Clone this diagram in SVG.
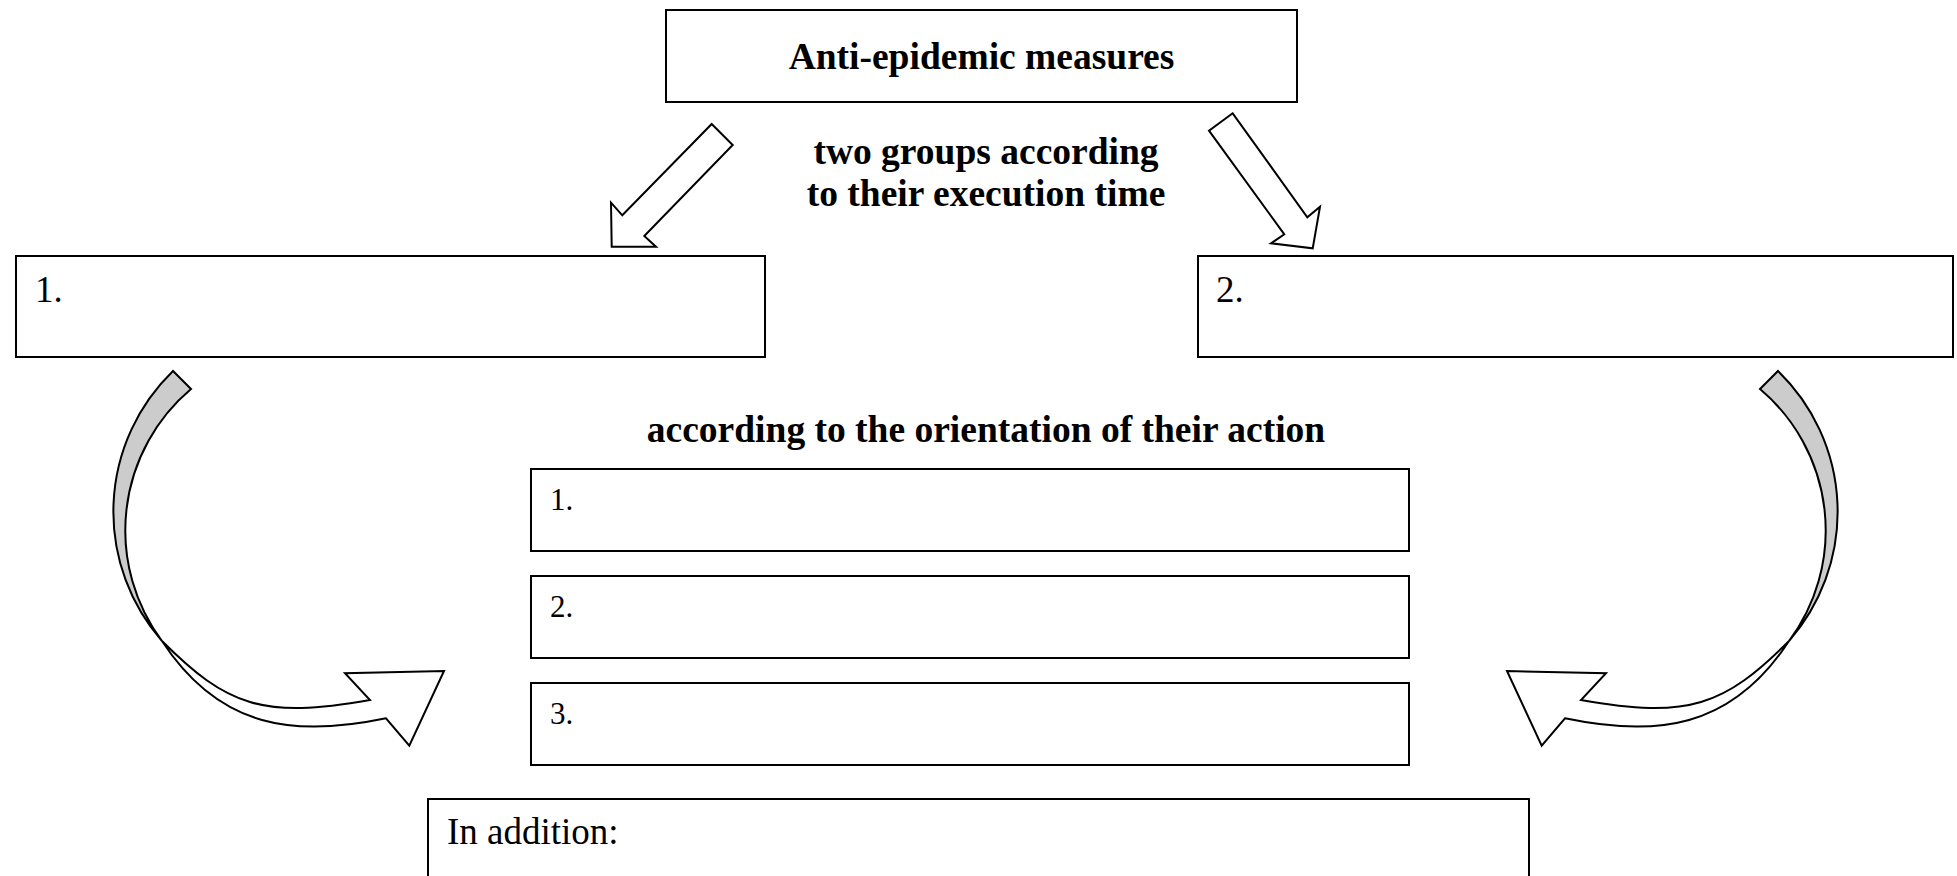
<svg xmlns="http://www.w3.org/2000/svg" width="1957" height="876" viewBox="0 0 1957 876">
<defs>
<style>
.box{fill:#fff;stroke:#000;stroke-width:2}
.arr{fill:#fff;stroke:#000;stroke-width:2;stroke-linejoin:miter}
.back{fill:#cccccc;stroke:#000;stroke-width:2}
.b{font-family:"Liberation Serif","Times New Roman",serif;font-weight:bold;font-size:37.5px;fill:#000}
.r{font-family:"Liberation Serif","Times New Roman",serif;font-size:37px;fill:#000}
.s{font-family:"Liberation Serif","Times New Roman",serif;font-size:31px;fill:#000}
</style>
<g id="curved-arrow">
<path class="back" d="M173,371 A196,196 0 0,0 162,641 A185,185 0 0,1 191,389 Z"/>
<path class="arr" d="M162,641 C226.7,705.7 262.6,719.3 370,700 L345,673.3 L444,671 L409.3,745.7 L386,718.3 C295.9,737.2 220.1,729.7 162,641 Z"/>
</g>
</defs>
<rect width="1957" height="876" fill="#fff"/>
<g id="connectors">
<path id="arrow-left" class="arr" d="M711.7,124 L732.7,145 L644.3,236 L656,246.7 L611.7,246.7 L611,202.7 L622.3,215.3 Z"/>
<path id="arrow-right" class="arr" d="M1232.7,113.3 L1209,130.7 L1284.3,234.3 L1271,243.3 L1312.7,248.3 L1320,206.7 L1307.3,217.3 Z"/>
<use id="curve-left" href="#curved-arrow"/>
<use id="curve-right" href="#curved-arrow" transform="translate(1951,0) scale(-1,1)"/>
</g>
<g id="node-title">
<rect class="box" x="666" y="10" width="631" height="92"/>
<text class="b" x="981.5" y="69" text-anchor="middle">Anti-epidemic measures</text>
</g>
<g id="label-time">
<text class="b" x="986" y="164" text-anchor="middle">two groups according</text>
<text class="b" x="986" y="206" text-anchor="middle">to their execution time</text>
</g>
<g id="node-group1">
<rect class="box" x="16" y="256" width="749" height="101"/>
<text class="r" x="35" y="302">1.</text>
</g>
<g id="node-group2">
<rect class="box" x="1198" y="256" width="755" height="101"/>
<text class="r" x="1216" y="302">2.</text>
</g>
<g id="label-orientation">
<text class="b" x="986" y="442" text-anchor="middle">according to the orientation of their action</text>
</g>
<g id="node-orient1">
<rect class="box" x="531" y="469" width="878" height="82"/>
<text class="s" x="550" y="510">1.</text>
</g>
<g id="node-orient2">
<rect class="box" x="531" y="576" width="878" height="82"/>
<text class="s" x="550" y="617">2.</text>
</g>
<g id="node-orient3">
<rect class="box" x="531" y="683" width="878" height="82"/>
<text class="s" x="550" y="724">3.</text>
</g>
<g id="node-addition">
<rect class="box" x="428" y="799" width="1101" height="110"/>
<text class="r" x="447" y="844">In addition:</text>
</g>
</svg>
